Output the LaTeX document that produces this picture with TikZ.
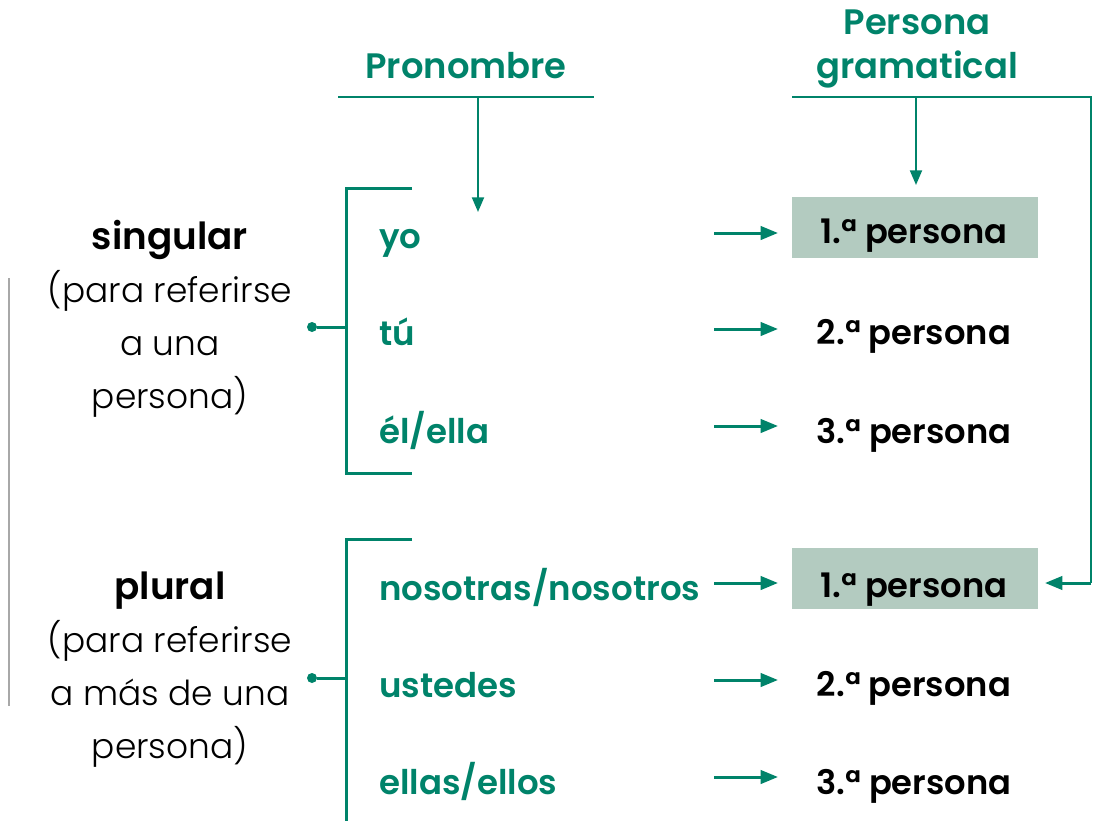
\documentclass[tikz,border=0pt]{standalone}
\usepackage{fontspec}
\setmainfont{Poppins}[BoldFont={Poppins SemiBold}]
\newfontfamily\lightf{Poppins Light}
\usetikzlibrary{arrows.meta}
\definecolor{grn}{HTML}{00836A}
\definecolor{boxc}{HTML}{B3CBC0}
\definecolor{gry}{HTML}{A8A8A8}
\begin{document}
\begin{tikzpicture}[x=0.75pt,y=-0.75pt,
  hdr/.style={text=grn,font=\fontsize{26.5}{33}\selectfont\bfseries,align=center,inner sep=0,anchor=base},
  pron/.style={text=grn,font=\fontsize{25.5}{30}\selectfont\bfseries,anchor=base west,inner sep=0},
  pers/.style={text=black,font=\fontsize{25.3}{30}\selectfont\bfseries,anchor=base,inner sep=0},
  lbl/.style={font=\fontsize{25.8}{39.75}\selectfont\lightf,align=center,anchor=base,inner sep=0},
  gline/.style={draw=grn,line width=2.25pt},
  hline/.style={draw=grn,line width=2pt},
  thin/.style={draw=grn,line width=1.5pt},
  arr/.style={gline,-{Triangle[length=13pt,width=10pt]}},
  sarr/.style={thin,-{Triangle[length=11pt,width=9pt]}},
  pbox/.style={fill=boxc,draw=none,minimum width=184.5pt,minimum height=45.75pt,inner sep=0},
  dot/.style={circle,fill=grn,inner sep=0,minimum size=7.5pt}
]
\useasboundingbox (0,0) rectangle (1097,821);

% headers
\node[hdr] (h1) at (466,78) {Pronombre};
\node[hdr] (h2) at (917,78) {Persona\\gramatical};

% header rules
\coordinate (r1a) at (338,97);
\coordinate (r1b) at (594,97);
\coordinate (r1m) at (478,97);
\coordinate (r1t) at (478,212);
\coordinate (r2a) at (792,97);
\coordinate (r2c) at (1091,97);
\coordinate (r2d) at (1091,583);
\coordinate (r2t) at (1045,583);
\coordinate (r2m) at (916,97);
\coordinate (r2s) at (916,185);
\draw[hline] (r1a) -- (r1b);
\draw[sarr] (r1m) -- (r1t);
\draw[hline] (r2a) -- (r2c) -- (r2d);
\draw[arr] (r2d) -- (r2t);
\draw[sarr] (r2m) -- (r2s);

% boxes
\node[pbox] (box1) at (915,227.5) {};
\node[pbox] (box2) at (915,578.5) {};

% left labels
\node[lbl] (sg) at (170,408) {{\fontsize{28}{39.75}\selectfont\rmfamily\bfseries singular}\\(para referirse\\a una\\persona)};
\node[lbl] (pl) at (170,758) {{\fontsize{28}{39.75}\selectfont\rmfamily\bfseries plural}\\(para referirse\\a más de una\\persona)};
\coordinate (ga) at (9,278);
\coordinate (gb) at (9,706);
\draw[gry,line width=1.2pt] (ga) -- (gb);

% brackets
\coordinate (b1t) at (412,188);
\coordinate (b1tl) at (346,188);
\coordinate (b1bl) at (346,473);
\coordinate (b1b) at (412,473);
\coordinate (b1m) at (346,327);
\draw[gline] (b1t) -- (b1tl) -- (b1bl) -- (b1b);
\node[dot] (d1) at (312,327) {};
\draw[gline] (d1) -- (b1m);

\coordinate (b2t) at (412,539);
\coordinate (b2tl) at (346,539);
\coordinate (b2bl) at (346,821);
\coordinate (b2m) at (346,678);
\draw[gline] (b2t) -- (b2tl) -- (b2bl);
\node[dot] (d2) at (312,678) {};
\draw[gline] (d2) -- (b2m);

% pronouns
\node[pron] (p1) at (379,248) {yo};
\node[pron] (p2) at (379,345) {tú};
\node[pron] (p3) at (379,443) {él/ella};
\node[pron] (p4) at (379,600) {nosotras/nosotros};
\node[pron] (p5) at (379,697) {ustedes};
\node[pron] (p6) at (379,794) {ellas/ellos};

% persons
\node[pers] (g1) at (914,243) {1.ª persona};
\node[pers] (g2) at (914,344) {2.ª persona};
\node[pers] (g3) at (914,443) {3.ª persona};
\node[pers] (g4) at (914,597) {1.ª persona};
\node[pers] (g5) at (914,696) {2.ª persona};
\node[pers] (g6) at (914,794) {3.ª persona};

% arrows
\foreach \i/\y in {1/233,2/329,3/426,4/583,5/680,6/777}{
  \coordinate (a\i s) at (714,\y);
  \coordinate (a\i e) at (778,\y);
  \draw[arr] (a\i s) -- (a\i e);
}
\end{tikzpicture}
\end{document}
